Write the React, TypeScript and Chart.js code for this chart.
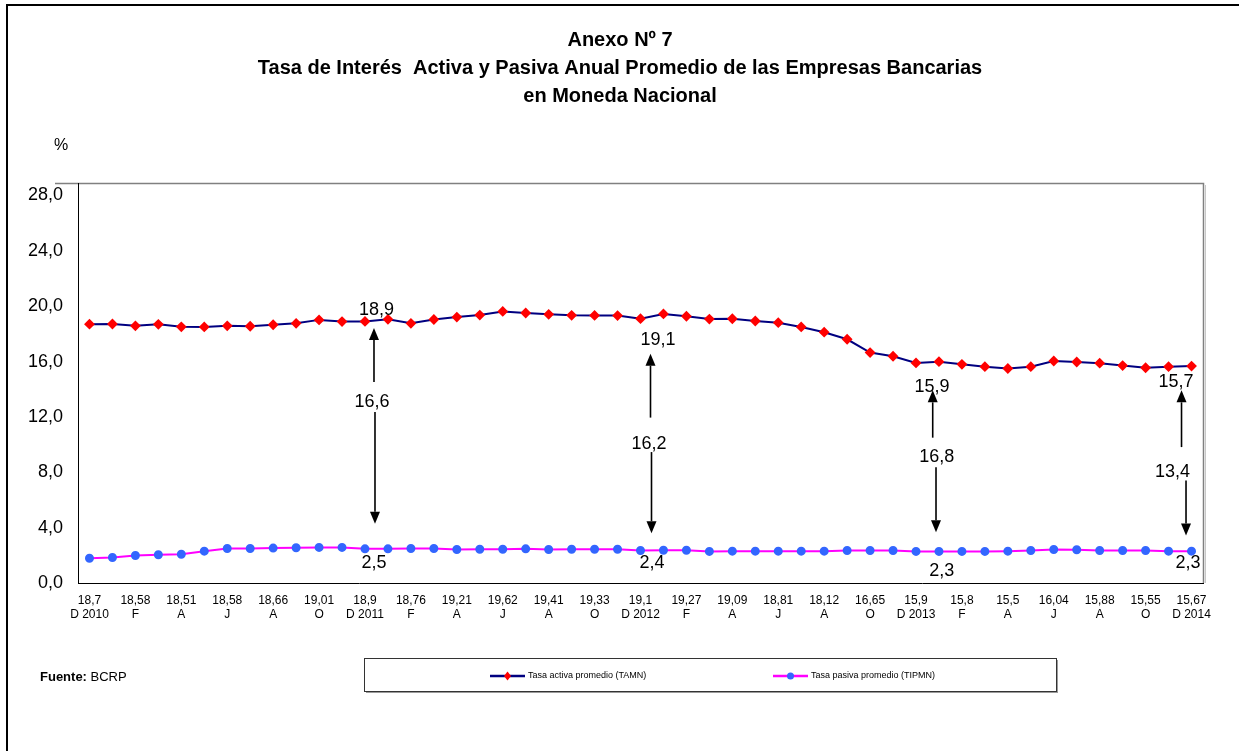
import { useEffect, useRef } from 'react';
import { Chart, registerables } from 'chart.js';

Chart.register(...registerables);

// ---- data ----
const months = [
  'D 2010', 'E', 'F', 'M', 'A', 'M', 'J', 'J', 'A', 'S', 'O', 'N',
  'D 2011', 'E', 'F', 'M', 'A', 'M', 'J', 'J', 'A', 'S', 'O', 'N',
  'D 2012', 'E', 'F', 'M', 'A', 'M', 'J', 'J', 'A', 'S', 'O', 'N',
  'D 2013', 'E', 'F', 'M', 'A', 'M', 'J', 'J', 'A', 'S', 'O', 'N',
  'D 2014',
];

const tamn = [
  18.70, 18.71, 18.58, 18.69, 18.51, 18.50, 18.58, 18.55, 18.66, 18.76, 19.01, 18.89,
  18.90, 19.05, 18.76, 19.04, 19.21, 19.36, 19.62, 19.51, 19.41, 19.34, 19.33, 19.32,
  19.10, 19.44, 19.27, 19.07, 19.09, 18.93, 18.81, 18.50, 18.12, 17.61, 16.65, 16.38,
  15.90, 15.99, 15.80, 15.63, 15.50, 15.63, 16.04, 15.97, 15.88, 15.71, 15.55, 15.63,
  15.67,
];

const tipmn = [
  1.79, 1.84, 1.99, 2.04, 2.08, 2.30, 2.49, 2.49, 2.52, 2.55, 2.57, 2.57,
  2.47, 2.47, 2.49, 2.49, 2.42, 2.44, 2.44, 2.47, 2.42, 2.44, 2.44, 2.44,
  2.35, 2.37, 2.37, 2.28, 2.30, 2.30, 2.30, 2.30, 2.30, 2.35, 2.35, 2.35,
  2.28, 2.28, 2.28, 2.28, 2.30, 2.35, 2.42, 2.40, 2.35, 2.35, 2.35, 2.30,
  2.30,
];

const seriesLabels = ['Tasa activa promedio (TAMN)', 'Tasa pasiva promedio (TIPMN)'];

const yTicks = [0, 4, 8, 12, 16, 20, 24, 28];

const titleLines = [
  'Anexo Nº 7',
  'Tasa de Interés  Activa y Pasiva Anual Promedio de las Empresas Bancarias',
  'en Moneda Nacional',
];

// annotation texts (December of each year)
const annotIndex = [12, 24, 36, 48];
const annotActiva = ['18,9', '19,1', '15,9', '15,7'];
const annotSpread = ['16,6', '16,2', '16,8', '13,4'];
const annotPasiva = ['2,5', '2,4', '2,3', '2,3'];

// annotation layout, in data units (y) and pixel offsets (dx) from the category
const annotLayout = [
  { topDx: 11.5, topY: 19.7, midDx: 7, midY: 13.07, botDx: 9, botY: 1.43,
    upDx: 9, upFrom: 14.52, upTo: 18.42, dnDx: 10, dnFrom: 12.35, dnTo: 4.28 },
  { topDx: 17.5, topY: 17.59, midDx: 8.5, midY: 10.01, botDx: 11.5, botY: 1.41,
    upDx: 10, upFrom: 11.95, upTo: 16.57, dnDx: 11, dnFrom: 9.46, dnTo: 3.6 },
  { topDx: 16, topY: 14.14, midDx: 20.7, midY: 9.1, botDx: 25.7, botY: 0.9,
    upDx: 16.7, upFrom: 10.5, upTo: 13.92, dnDx: 20, dnFrom: 8.37, dnTo: 3.67 },
  { topDx: -15.5, topY: 14.52, midDx: -19, midY: 8.01, botDx: -3.5, botY: 1.41,
    upDx: -10, upFrom: 9.82, upTo: 13.92, dnDx: -5.5, dnFrom: 7.41, dnTo: 3.43 },
];

const NARROW = '"Liberation Sans Narrow", "Arial Narrow", "Liberation Sans", Arial, sans-serif';
const SANS = '"Liberation Sans", Arial, sans-serif';

const fmt = (v: number) => String(v).replace('.', ',');

function drawArrow(ctx: CanvasRenderingContext2D, x: number, yFrom: number, yTo: number) {
  const dir = yTo < yFrom ? -1 : 1;
  const headLen = 12;
  const headHalf = 5;
  ctx.save();
  ctx.strokeStyle = '#000';
  ctx.fillStyle = '#000';
  ctx.lineWidth = 1.6;
  ctx.beginPath();
  ctx.moveTo(x, yFrom);
  ctx.lineTo(x, yTo - dir * headLen);
  ctx.stroke();
  ctx.beginPath();
  ctx.moveTo(x, yTo);
  ctx.lineTo(x - headHalf, yTo - dir * headLen);
  ctx.lineTo(x + headHalf, yTo - dir * headLen);
  ctx.closePath();
  ctx.fill();
  ctx.restore();
}

const decoPlugin = {
  id: 'deco',
  beforeDraw(chart: any) {
    const { ctx, chartArea } = chart;
    ctx.save();
    ctx.fillStyle = '#fff';
    ctx.fillRect(0, 0, chart.width, chart.height);
    // outer frame
    ctx.strokeStyle = '#000';
    ctx.lineWidth = 2;
    ctx.strokeRect(7, 5, chart.width + 10, chart.height + 10);
    // plot area border (gray)
    ctx.strokeStyle = '#808080';
    ctx.lineWidth = 1.5;
    ctx.beginPath();
    ctx.moveTo(55, chartArea.top + 0.5);
    ctx.lineTo(chartArea.right + 0.5, chartArea.top + 0.5);
    ctx.lineTo(chartArea.right + 0.5, chartArea.bottom);
    ctx.stroke();
    ctx.strokeStyle = '#c8c8c8';
    ctx.lineWidth = 1;
    ctx.beginPath();
    ctx.moveTo(chartArea.right + 2.5, chartArea.top + 2);
    ctx.lineTo(chartArea.right + 2.5, chartArea.bottom);
    ctx.stroke();
    ctx.restore();
  },
  afterDraw(chart: any) {
    const { ctx } = chart;
    const xs = chart.scales.x;
    const ys = chart.scales.y;
    ctx.save();
    // titles
    ctx.fillStyle = '#000';
    ctx.textAlign = 'center';
    ctx.textBaseline = 'middle';
    ctx.font = `bold 20px ${NARROW}`;
    titleLines.forEach((t, i) => ctx.fillText(t, 620, 40 + i * 28));
    // % unit
    ctx.font = `16px ${SANS}`;
    ctx.textAlign = 'left';
    ctx.fillText('%', 54, 146);

    // annotations
    ctx.textAlign = 'center';
    ctx.font = `18px ${SANS}`;
    annotIndex.forEach((idx, i) => {
      const L = annotLayout[i];
      const x0 = xs.getPixelForValue(idx);
      ctx.fillText(annotActiva[i], x0 + L.topDx, ys.getPixelForValue(L.topY));
      ctx.fillText(annotSpread[i], x0 + L.midDx, ys.getPixelForValue(L.midY));
      ctx.fillText(annotPasiva[i], x0 + L.botDx, ys.getPixelForValue(L.botY));
      drawArrow(ctx, x0 + L.upDx, ys.getPixelForValue(L.upFrom), ys.getPixelForValue(L.upTo));
      drawArrow(ctx, x0 + L.dnDx, ys.getPixelForValue(L.dnFrom), ys.getPixelForValue(L.dnTo));
    });

    // legend box
    const bx = 364, by = 658, bw = 692, bh = 33;
    ctx.fillStyle = '#9a9a9a';
    ctx.fillRect(bx + 2, by + 2, bw, bh);
    ctx.fillStyle = '#fff';
    ctx.fillRect(bx, by, bw, bh);
    ctx.strokeStyle = '#333';
    ctx.lineWidth = 1;
    ctx.strokeRect(bx + 0.5, by + 0.5, bw, bh);
    const itemX = [490, 773];
    const ly = 676;
    chart.data.datasets.forEach((ds: any, i: number) => {
      const x = itemX[i];
      ctx.strokeStyle = ds.borderColor;
      ctx.lineWidth = 2.5;
      ctx.beginPath();
      ctx.moveTo(x, ly);
      ctx.lineTo(x + 35, ly);
      ctx.stroke();
      ctx.fillStyle = ds.pointBackgroundColor;
      ctx.beginPath();
      if (ds.pointStyle === 'rectRot') {
        ctx.moveTo(x + 17.5, ly - 4.5);
        ctx.lineTo(x + 21, ly);
        ctx.lineTo(x + 17.5, ly + 4.5);
        ctx.lineTo(x + 14, ly);
        ctx.closePath();
      } else {
        ctx.arc(x + 17.5, ly, 3.5, 0, Math.PI * 2);
      }
      ctx.fill();
      ctx.fillStyle = '#000';
      ctx.textAlign = 'left';
      ctx.font = `9px ${NARROW}`;
      ctx.fillText(ds.label, x + 38, ly);
    });

    // source
    ctx.fillStyle = '#000';
    ctx.textAlign = 'left';
    ctx.font = `bold 13px ${NARROW}`;
    ctx.fillText('Fuente:', 40, 677);
    const w = ctx.measureText('Fuente: ').width;
    ctx.font = `13px ${NARROW}`;
    ctx.fillText('BCRP', 40 + w, 677);
    ctx.restore();
  },
};

export default function App() {
  const ref = useRef<HTMLCanvasElement>(null);
  useEffect(() => {
    const canvas = ref.current!;
    const chart = new Chart(canvas, {
      type: 'line',
      data: {
        labels: months,
        datasets: [
          {
            label: seriesLabels[0],
            data: tamn,
            borderColor: '#000080',
            backgroundColor: '#ff0000',
            pointBackgroundColor: '#ff0000',
            pointBorderColor: '#ff0000',
            pointStyle: 'rectRot',
            pointRadius: 4,
            borderWidth: 2,
            tension: 0,
          },
          {
            label: seriesLabels[1],
            data: tipmn,
            borderColor: '#ff00ff',
            backgroundColor: '#3366ff',
            pointBackgroundColor: '#3366ff',
            pointBorderColor: '#3366ff',
            pointStyle: 'circle',
            pointRadius: 3.5,
            borderWidth: 2,
            tension: 0,
          },
        ],
      },
      options: {
        responsive: false,
        animation: false,
        layout: { padding: { top: 183, left: 0, right: 36, bottom: 128 } },
        plugins: {
          legend: { display: false },
          title: { display: false },
          tooltip: { enabled: false },
        },
        scales: {
          x: {
            type: 'category',
            offset: true,
            grid: { display: false, drawTicks: false },
            border: { display: true, color: '#000', width: 1 },
            afterFit: (s: any) => { s.height = 40; },
            ticks: {
              autoSkip: false,
              maxRotation: 0,
              minRotation: 0,
              padding: 10,
              color: '#000',
              font: { family: SANS, size: 12, lineHeight: 1.2 },
              callback: (_v: any, i: number) => (i % 2 === 0 ? [fmt(tamn[i]), months[i]] : ''),
            },
          },
          y: {
            min: 0,
            max: 28.9,
            grid: { display: false, drawTicks: false },
            border: { display: true, color: '#000', width: 1 },
            afterFit: (s: any) => { s.width = 78; },
            afterBuildTicks: (s: any) => { s.ticks = yTicks.map((v) => ({ value: v })); },
            ticks: {
              padding: 15,
              color: '#000',
              font: { family: SANS, size: 18 },
              callback: (v: any) => Number(v).toFixed(1).replace('.', ','),
            },
          },
        },
      },
      plugins: [decoPlugin],
    } as any);
    return () => chart.destroy();
  }, []);
  return (
    <canvas
      ref={ref}
      width={1239}
      height={751}
      style={{ position: 'fixed', left: 0, top: 0, width: 1239, height: 751 }}
    />
  );
}
